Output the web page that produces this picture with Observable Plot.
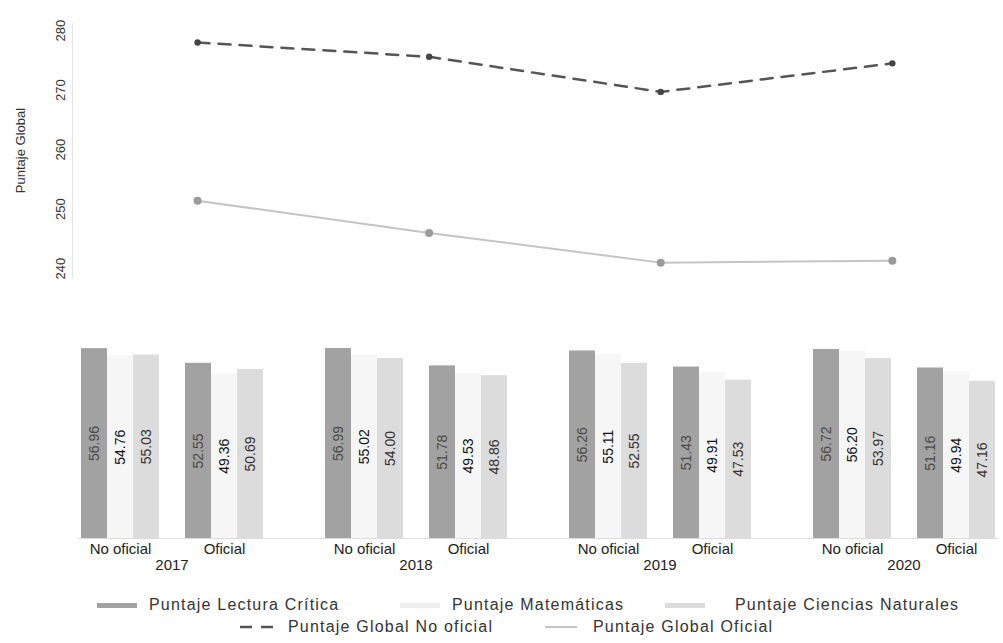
<!DOCTYPE html>
<html>
<head>
<meta charset="utf-8">
<script src="https://cdn.jsdelivr.net/npm/d3@7"></script>
<script src="https://cdn.jsdelivr.net/npm/@observablehq/plot@0.6"></script>
<style>
  html, body { margin: 0; padding: 0; background: #fff; }
  body { width: 1003px; height: 643px; overflow: hidden; font-family: "Liberation Sans", Arial, sans-serif; }
  #chart svg { display: block; }
  .legend { font-family: "Liberation Sans", Arial, sans-serif; font-size: 16px; color: #333; letter-spacing: 1.2px; margin-top: 14px; }
  .row { display: flex; align-items: center; height: 22px; white-space: nowrap; }
  .item { display: flex; align-items: center; }
  .sw { display: inline-block; margin-right: 12px; }
</style>
</head>
<body>
<div id="chart"></div>
<script>
// ---- data ----
const years = ["2017", "2018", "2019", "2020"];
const sectors = ["No oficial", "Oficial"];
const subjects = ["Puntaje Lectura Crítica", "Puntaje Matemáticas", "Puntaje Ciencias Naturales"];
// order: 2017 No oficial, 2017 Oficial, 2018 No oficial, 2018 Oficial, ...
const lectura     = [56.96, 52.55, 56.99, 51.78, 56.26, 51.43, 56.72, 51.16];
const matematicas = [54.76, 49.36, 55.02, 49.53, 55.11, 49.91, 56.20, 49.94];
const ciencias    = [55.03, 50.69, 54.00, 48.86, 52.55, 47.53, 53.97, 47.16];
const globalNoOficial = [278.0, 275.6, 269.7, 274.5];
const globalOficial   = [251.4, 246.0, 241.0, 241.3];
const globalLabels = ["Puntaje Global No oficial", "Puntaje Global Oficial"];
const yTicks = [240, 250, 260, 270, 280];

// ---- derived tables ----
const subjectSeries = [lectura, matematicas, ciencias];
const bars = [];
years.forEach((year, yi) => {
  sectors.forEach((sector, si) => {
    subjects.forEach((subject, ki) => {
      bars.push({year, sector, subject, key: sector + "|" + ki, value: subjectSeries[ki][yi * 2 + si]});
    });
  });
});
const xKeys = [...[0, 1, 2].map(k => "No oficial|" + k), "gap", ...[0, 1, 2].map(k => "Oficial|" + k)];

const lines = [];
years.forEach((year, i) => {
  lines.push({year: +year, series: globalLabels[0], value: globalNoOficial[i]});
  lines.push({year: +year, series: globalLabels[1], value: globalOficial[i]});
});

// ---- styles ----
const font = "Liberation Sans, Arial, sans-serif";
const barColors = ["#a2a2a2", "#f6f6f6", "#dcdcdc"];
const labelColors = ["#4a4a4a", "#111", "#333"];
const labelColor = new Map(subjects.map((s, i) => [s, labelColors[i]]));

// ---- top: global scores ----
const topChart = Plot.plot({
  width: 1003,
  height: 290,
  marginLeft: 72,
  marginRight: 0,
  marginTop: 23,
  marginBottom: 13,
  style: {fontFamily: font, fontSize: "13px", color: "#333", background: "#fff"},
  x: {type: "linear", domain: [2016.46, 2020.48], axis: null},
  y: {domain: [238.5, 281.2]},
  marks: [
    Plot.frame({anchor: "left", stroke: "#e4e4e4"}),
    Plot.axisY({ticks: yTicks, tickSize: 0, tickPadding: 8, tickRotate: -90, label: null, fill: "#333"}),
    Plot.text(["Puntaje Global"], {frameAnchor: "left", textAnchor: "middle", dx: -52, rotate: -90, fontSize: 13, fill: "#333"}),
    Plot.line(lines.filter(d => d.series === globalLabels[1]), {x: "year", y: "value", stroke: "#c4c4c4", strokeWidth: 2}),
    Plot.dot(lines.filter(d => d.series === globalLabels[1]), {x: "year", y: "value", r: 4, fill: "#9a9a9a"}),
    Plot.line(lines.filter(d => d.series === globalLabels[0]), {x: "year", y: "value", stroke: "#555", strokeWidth: 2.5, strokeDasharray: "12 9"}),
    Plot.dot(lines.filter(d => d.series === globalLabels[0]), {x: "year", y: "value", r: 3.2, fill: "#444"})
  ]
});

// ---- bottom: subject scores ----
const bottomChart = Plot.plot({
  width: 1003,
  height: 290,
  marginLeft: 77,
  marginRight: 5,
  marginTop: 48,
  marginBottom: 42,
  style: {fontFamily: font, fontSize: "14px", color: "#222", background: "#fff"},
  fx: {domain: years, paddingInner: 0.233, paddingOuter: 0, label: null},
  x: {domain: xKeys, padding: 0, label: null},
  y: {domain: [0, 60], axis: null},
  color: {domain: subjects, range: barColors},
  marks: [
    Plot.barY(bars, {fx: "year", x: "key", y: "value", fill: "subject"}),
    Plot.text(bars, {
      fx: "year", x: "key", y: d => d.value / 2, text: d => d.value.toFixed(2),
      rotate: -90, fontSize: 14, letterSpacing: 0.6, dy: 0,
      fill: d => labelColor.get(d.subject), fontWeight: d => d.subject === subjects[1] ? "bold" : "normal"
    }),
    Plot.frame({anchor: "bottom", stroke: "#dcdcdc", facet: "super"}),
    Plot.axisX({ticks: ["No oficial|1", "Oficial|1"], tickFormat: d => d.split("|")[0], tickSize: 0, tickPadding: 5, label: null, fontSize: 15, letterSpacing: 1.4, fill: "#222"}),
    Plot.axisFx({anchor: "bottom", tickSize: 0, tickPadding: 21, label: null, fontSize: 15, letterSpacing: 1.5, fill: "#222"})
  ]
});

const chart = document.getElementById("chart");
chart.append(topChart, bottomChart);

// ---- legend ----
const legend = document.createElement("div");
legend.className = "legend";
function swatchBar(color) {
  return `<span class="sw" style="width:40px;height:5px;background:${color}"></span>`;
}
legend.innerHTML = `
  <div class="row" style="padding-left:97px">
    <span class="item" style="width:303px">${swatchBar(barColors[0])}${subjects[0]}</span>
    <span class="item" style="width:265px">${swatchBar("#eeeeee")}${subjects[1]}</span>
    <span class="item">${swatchBar(barColors[2])}<span style="margin-left:18px">${subjects[2]}</span></span>
  </div>
  <div class="row" style="padding-left:240px">
    <span class="item" style="width:305px"><svg class="sw" width="36" height="6"><line x1="0" y1="3" x2="36" y2="3" stroke="#555" stroke-width="2.5" stroke-dasharray="12 9"/></svg>${globalLabels[0]}</span>
    <span class="item"><svg class="sw" width="32" height="6" style="margin-right:16px"><line x1="0" y1="3" x2="32" y2="3" stroke="#c4c4c4" stroke-width="2"/></svg>${globalLabels[1]}</span>
  </div>`;
chart.append(legend);
</script>
</body>
</html>
